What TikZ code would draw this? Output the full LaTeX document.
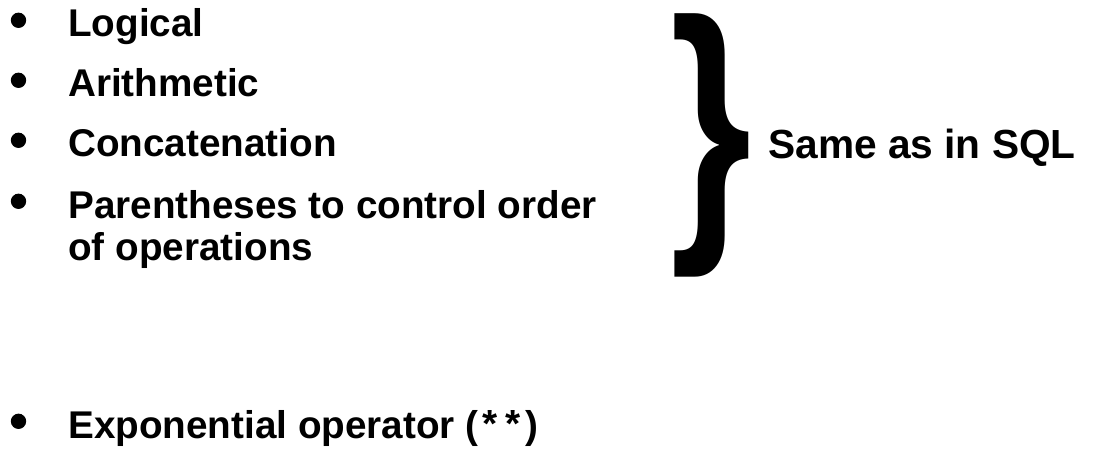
\documentclass[tikz,border=0pt]{standalone}
\usepackage{fontspec}
\setmainfont{Liberation Sans}
\newfontfamily\starfont{Liberation Mono}

\begin{document}
\begin{tikzpicture}[x=0.75pt, y=-0.75pt,
  item/.style={anchor=base west, inner sep=0pt, align=left,
    font=\fontsize{29}{31.5}\selectfont\bfseries},
  dot/.style={circle, fill=black, inner sep=0pt, minimum size=11.5pt}]
  % keep the page at the size of the slide
  \useasboundingbox (0,0) rectangle (1094,452);

  % the bulleted items (last line's baseline / first line's baseline)
  \foreach \n/\yb/\yd/\txt in {logic/37/37/Logical, arith/97/97/Arithmetic,
      concat/157/157/Concatenation,
      paren/260/218/{Parentheses to control order\\of operations},
      expo/438/438/{Exponential operator ({\starfont **})}} {
    \node[item] (\n) at (68,\yb) {\txt};
    \node[dot] (\n-dot) at (18.5,\yd-16.7) {};
  }

  % the big brace and its remark
  \node[anchor=base west, inner sep=0pt, font=\fontsize{212}{212}\selectfont\bfseries]
    (brace) at (670,219) {\scalebox{0.74}[1]{\}}};
  \node[anchor=base west, inner sep=0pt, font=\fontsize{30.5}{36}\selectfont\bfseries]
    (same) at (768,159) {Same as in SQL};
\end{tikzpicture}
\end{document}
